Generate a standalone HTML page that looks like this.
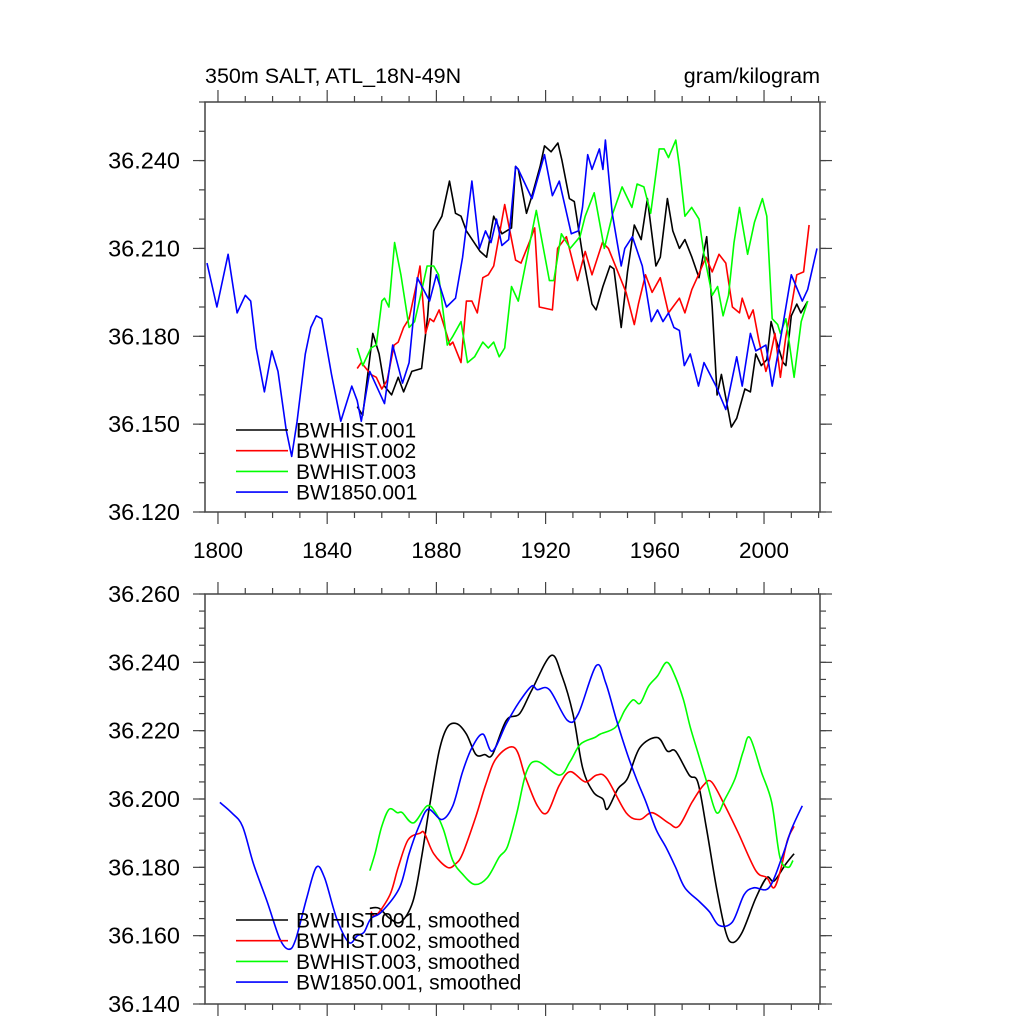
<!DOCTYPE html>
<html><head><meta charset="utf-8">
<style>
html,body{margin:0;padding:0;background:#fff;}
svg{display:block;font-family:"Liberation Sans",sans-serif;}
</style></head>
<body>
<svg id="chart" width="1024" height="1024" viewBox="0 0 1024 1024" xmlns="http://www.w3.org/2000/svg">
<text x="205" y="83" font-size="21.5">350m SALT, ATL_18N-49N</text>
<text x="820" y="83" font-size="21.5" text-anchor="end">gram/kilogram</text>
<g id="top"></g>
<g id="bot"></g>
</svg>
<script>
// ---- data (year, value pairs) ----
const xTickYears = [1800,1840,1880,1920,1960,2000];
const topYTicks = [36.12,36.15,36.18,36.21,36.24];
const topYLabels = ["36.120","36.150","36.180","36.210","36.240"];
const botYTicks = [36.14,36.16,36.18,36.20,36.22,36.24,36.26];
const botYLabels = ["36.140","36.160","36.180","36.200","36.220","36.240","36.260"];
const seriesNames = ["BWHIST.001","BWHIST.002","BWHIST.003","BW1850.001"];
const seriesColors = ["#000","#f00","#0f0","#00f"];

const raw001Years = [1851,1853,1856.7,1859,1861,1863.6,1866,1868,1871,1874.6,1876.8,1879,1882,1884.8,1887,1889,1891,1896,1898.4,1901,1904,1907.5,1909,1910,1913,1915,1918,1919.6,1922,1924.5,1926,1928.7,1930.5,1933.5,1937,1938.5,1941,1943.6,1945,1947.7,1950,1952.5,1955,1957.3,1960.4,1962,1964.6,1966.6,1969,1971,1973.6,1976.2,1979,1981,1982.8,1984.4,1988,1990,1993,1995,1997,1999,2001,2002.6,2004,2007,2008,2010,2012,2013.5,2016];
const raw001Values = [36.156,36.153,36.181,36.174,36.163,36.160,36.166,36.161,36.168,36.169,36.187,36.216,36.221,36.233,36.222,36.221,36.216,36.209,36.207,36.221,36.215,36.217,36.238,36.237,36.222,36.228,36.238,36.245,36.243,36.246,36.240,36.227,36.226,36.208,36.191,36.189,36.197,36.204,36.203,36.183,36.202,36.218,36.213,36.227,36.204,36.207,36.227,36.216,36.210,36.213,36.207,36.200,36.214,36.190,36.160,36.167,36.149,36.152,36.162,36.161,36.174,36.170,36.172,36.185,36.180,36.171,36.170,36.187,36.191,36.188,36.192];

const raw002Years = [1851,1852.5,1856,1858,1860,1862,1864.5,1866,1868,1870,1873,1874,1876,1877.6,1879,1881,1883,1885,1886,1889,1891,1893,1895,1897,1899,1901,1905,1909,1911,1914,1916,1917.7,1922.5,1924.4,1927.6,1931.7,1934.5,1937,1940.8,1943,1949.5,1952.5,1954,1956.6,1959,1962,1965,1969,1971,1973.6,1976,1978.7,1981,1983.5,1986,1988.4,1991,1992,1994.5,1996,1998,2000.7,2002,2004,2006,2008,2010,2012,2014.5,2016.5];
const raw002Values = [36.169,36.171,36.167,36.166,36.162,36.165,36.177,36.178,36.183,36.186,36.199,36.204,36.181,36.186,36.185,36.189,36.183,36.177,36.178,36.171,36.192,36.192,36.188,36.200,36.201,36.204,36.225,36.206,36.205,36.212,36.217,36.190,36.189,36.210,36.214,36.199,36.209,36.201,36.212,36.210,36.195,36.184,36.191,36.201,36.195,36.200,36.188,36.193,36.188,36.196,36.201,36.207,36.202,36.208,36.205,36.190,36.188,36.193,36.186,36.189,36.179,36.168,36.172,36.181,36.166,36.180,36.190,36.201,36.202,36.218];

const raw003Years = [1851,1853,1856,1858,1860,1861,1862.6,1864.7,1867,1870,1872,1874,1876.6,1879,1880.8,1884,1886,1889,1891.4,1894,1897,1899,1901,1903,1905,1907.5,1910,1916.6,1921.4,1923,1925.8,1929,1932.6,1934.5,1937.8,1941.5,1944.6,1948,1951.6,1953.5,1956,1958.5,1961.6,1963.4,1965,1967.7,1969,1971,1973.5,1976.2,1978,1981,1983,1985,1987,1989,1991,1994,1996.5,1999.4,2001,2003,2005,2006,2008,2011,2013.6,2016];
const raw003Values = [36.176,36.170,36.176,36.177,36.192,36.193,36.190,36.212,36.201,36.183,36.185,36.193,36.204,36.204,36.201,36.177,36.180,36.185,36.171,36.173,36.178,36.176,36.178,36.173,36.176,36.197,36.192,36.223,36.199,36.199,36.215,36.210,36.214,36.221,36.229,36.210,36.222,36.231,36.224,36.232,36.231,36.222,36.244,36.244,36.241,36.247,36.238,36.221,36.224,36.220,36.208,36.194,36.197,36.187,36.194,36.212,36.224,36.208,36.219,36.227,36.221,36.186,36.184,36.181,36.186,36.166,36.185,36.192];

const raw1850Years = [1796,1799.6,1803.7,1807,1810,1812,1814,1817,1819.7,1822,1825,1827,1829,1832,1834,1836,1838,1841.6,1845,1849,1851,1852.5,1855.6,1861,1864,1867.6,1870,1873,1877.5,1880,1883.7,1887,1889.6,1893,1895.8,1898,1900,1902,1904,1906.5,1909,1910,1915,1919.6,1922.5,1925,1929.4,1932,1933.5,1935.4,1937,1939.7,1941,1941.9,1944.4,1947.7,1949,1951.8,1955.4,1958.7,1961,1963,1965,1967,1969,1970.8,1973,1976,1978,1982.4,1986,1990,1992,1995,1997,2000.7,2003,2006.6,2010,2014,2016,2019.4];
const raw1850Values = [36.205,36.190,36.208,36.188,36.194,36.192,36.176,36.161,36.175,36.168,36.148,36.139,36.151,36.174,36.183,36.187,36.186,36.167,36.151,36.163,36.158,36.151,36.168,36.157,36.177,36.164,36.171,36.200,36.192,36.201,36.190,36.193,36.207,36.233,36.210,36.216,36.212,36.220,36.211,36.213,36.238,36.237,36.227,36.242,36.228,36.233,36.215,36.216,36.224,36.242,36.237,36.244,36.237,36.247,36.222,36.204,36.210,36.214,36.204,36.185,36.189,36.185,36.188,36.183,36.182,36.170,36.174,36.163,36.171,36.163,36.155,36.173,36.163,36.181,36.175,36.177,36.163,36.182,36.201,36.192,36.196,36.210];

const sm001Years = [1855.6,1859,1863,1867,1871.4,1874.6,1877.5,1881,1884,1887.5,1891,1894.5,1897.7,1900.5,1905.6,1910.5,1915,1922,1926,1930,1933.6,1937.5,1941,1942.6,1946.5,1950,1954.5,1960.9,1964.6,1967.6,1972.6,1975.7,1978.8,1982.6,1986,1988.5,1992,1997,2001,2003.7,2008,2011];
const sm001Values = [36.168,36.168,36.165,36.164,36.170,36.183,36.198,36.214,36.221,36.222,36.219,36.213,36.213,36.213,36.223,36.225,36.232,36.242,36.236,36.225,36.209,36.202,36.200,36.197,36.203,36.206,36.215,36.218,36.214,36.214,36.207,36.205,36.192,36.174,36.161,36.158,36.161,36.171,36.177,36.176,36.181,36.184];

const sm002Years = [1856,1858,1863,1866,1869.6,1874,1875.6,1879,1884,1887,1889.6,1894.5,1898,1902,1908.6,1912.8,1917,1920.6,1925,1929,1934.5,1938.7,1942.4,1949.5,1954.5,1959,1965,1968.7,1973.6,1977.8,1980.8,1985.7,1990.6,1997,2001,2003.6,2006,2008.6,2011];
const sm002Values = [36.167,36.166,36.172,36.180,36.188,36.190,36.190,36.184,36.180,36.181,36.184,36.195,36.204,36.212,36.215,36.206,36.198,36.196,36.204,36.208,36.205,36.207,36.206,36.196,36.194,36.196,36.193,36.192,36.199,36.204,36.205,36.198,36.190,36.179,36.177,36.174,36.179,36.188,36.192];

const sm003Years = [1855.6,1857.5,1860,1862.7,1865.7,1867.5,1871.6,1876.6,1879.7,1882.6,1886,1889.6,1894,1898.7,1903,1906,1909.5,1913,1917,1925,1929,1932.7,1938,1940,1945.6,1949,1952,1954.6,1957.7,1961,1964.4,1967.4,1970.5,1973,1976,1979,1982.6,1985.7,1989.4,1992.4,1994.8,1999,2002.8,2005.8,2008.8,2010.6];
const sm003Values = [36.179,36.184,36.192,36.197,36.196,36.196,36.193,36.198,36.196,36.191,36.182,36.178,36.175,36.177,36.183,36.186,36.196,36.208,36.211,36.207,36.211,36.216,36.218,36.219,36.221,36.226,36.229,36.228,36.233,36.236,36.240,36.236,36.229,36.221,36.213,36.205,36.196,36.200,36.206,36.214,36.218,36.208,36.199,36.183,36.180,36.182];

const sm1850Years = [1800.7,1805,1809,1813,1818,1822.7,1826,1828.5,1832.5,1836,1839,1843.5,1848,1851,1853.5,1856,1860,1866.5,1870,1873.6,1877,1882,1886,1889.6,1893,1897,1900.5,1905.6,1910,1914.8,1917,1921.4,1928,1932,1938.5,1942,1946,1950,1953.2,1956.8,1960.5,1964,1967.6,1971,1976.3,1980,1983.5,1988.4,1992.7,1996.3,2001.8,2006.6,2010,2014];
const sm1850Values = [36.199,36.196,36.192,36.181,36.170,36.159,36.156,36.159,36.171,36.180,36.177,36.165,36.158,36.160,36.161,36.165,36.167,36.174,36.184,36.192,36.197,36.194,36.198,36.208,36.215,36.219,36.214,36.222,36.228,36.233,36.232,36.232,36.223,36.225,36.239,36.234,36.223,36.213,36.206,36.199,36.191,36.186,36.180,36.174,36.170,36.167,36.163,36.164,36.172,36.174,36.174,36.183,36.191,36.198];

const NS = "http://www.w3.org/2000/svg";
const X0 = 205, X1 = 820, YEAR0 = 1795.25, YEAR1 = 2020.5;
function xScale(yr){ return X0 + (yr - YEAR0) / (YEAR1 - YEAR0) * (X1 - X0); }
function mk(tag, attrs, parent){
  const e = document.createElementNS(NS, tag);
  for (const k in attrs) e.setAttribute(k, attrs[k]);
  parent.appendChild(e); return e;
}
function linePath(pts){
  return pts.map((p, j) => (j ? "L" : "M") + p[0].toFixed(1) + " " + p[1].toFixed(1)).join(" ");
}
function smoothPath(pts){
  let d = "M" + pts[0][0].toFixed(1) + " " + pts[0][1].toFixed(1);
  for (let i = 0; i < pts.length - 1; i++){
    const p0 = pts[Math.max(0, i-1)], p1 = pts[i], p2 = pts[i+1], p3 = pts[Math.min(pts.length-1, i+2)];
    const c1x = p1[0] + (p2[0]-p0[0])/6, c1y = p1[1] + (p2[1]-p0[1])/6;
    const c2x = p2[0] - (p3[0]-p1[0])/6, c2y = p2[1] - (p3[1]-p1[1])/6;
    d += " C" + c1x.toFixed(1) + " " + c1y.toFixed(1) + " " + c2x.toFixed(1) + " " + c2y.toFixed(1) + " " + p2[0].toFixed(1) + " " + p2[1].toFixed(1);
  }
  return d;
}

function panel(g, top, bottom, vmin, vmax, yTicks, yLabels, minorStep, xLabels, series, legendLabels, legendY, smooth){
  const yScale = v => bottom - (v - vmin) / (vmax - vmin) * (bottom - top);
  const ax = "#444";
  const fr = mk("rect", {x:X0, y:top, width:X1-X0, height:bottom-top, fill:"none", stroke:ax, "stroke-width":1.5}, g);
  
  
  for (let yr = 1800; yr <= 2020; yr += 10){
    const x = xScale(yr), major = (yr - 1800) % 40 === 0, L = major ? 12 : 6;
    const t1 = mk("line", {x1:x, x2:x, y1:bottom, y2:bottom+L, stroke:ax, "stroke-width":1.2}, g);
    
    
    const t2 = mk("line", {x1:x, x2:x, y1:top, y2:top-L, stroke:ax, "stroke-width":1.2}, g);
    
    
  }
  if (xLabels){
    xTickYears.forEach(yr => {
      const t = mk("text", {x:xScale(yr), y:bottom+46, "font-size":22.5, "text-anchor":"middle"}, g);
      t.textContent = String(yr);
      
      
    });
  }
  for (let v = vmin; v <= vmax + 1e-9; v += minorStep){
    const y = yScale(v);
    const a = mk("line", {x1:X0, x2:X0-6, y1:y, y2:y, stroke:ax, "stroke-width":1.2}, g);
    
    
    const b = mk("line", {x1:X1, x2:X1+6, y1:y, y2:y, stroke:ax, "stroke-width":1.2}, g);
    
    
  }
  yTicks.forEach((v, i) => {
    const y = yScale(v);
    const a = mk("line", {x1:X0, x2:X0-12, y1:y, y2:y, stroke:ax, "stroke-width":1.2}, g);
    
    
    const b = mk("line", {x1:X1, x2:X1+12, y1:y, y2:y, stroke:ax, "stroke-width":1.2}, g);
    
    
    const t = mk("text", {x:180, y:y+8, "font-size":23.5, "text-anchor":"end"}, g);
    t.textContent = yLabels[i];
    
    
  });
  series.forEach((s, i) => {
    const pts = s.years.map((yr, j) => [xScale(yr), yScale(s.values[j])]);
    const d = smooth ? smoothPath(pts) : linePath(pts);
    const p = mk("path", {d:d, fill:"none", stroke:seriesColors[i], "stroke-width":1.6, "stroke-linejoin":"round"}, g);
    
    
  });
  legendLabels.forEach((lab, i) => {
    const y = legendY + i * 20.7;
    const l = mk("line", {x1:236, x2:288, y1:y, y2:y, stroke:seriesColors[i], "stroke-width":1.6}, g);
    
    
    const t = mk("text", {x:296, y:y+7.5, "font-size":21}, g);
    t.textContent = lab;
    
    
  });
}

panel(document.getElementById("top"), 102, 512, 36.12, 36.26, topYTicks, topYLabels, 0.01, true,
  [{years:raw001Years, values:raw001Values},{years:raw002Years, values:raw002Values},
   {years:raw003Years, values:raw003Values},{years:raw1850Years, values:raw1850Values}],
  seriesNames, 430, false);
panel(document.getElementById("bot"), 594, 1004, 36.14, 36.26, botYTicks, botYLabels, 0.005, false,
  [{years:sm001Years, values:sm001Values},{years:sm002Years, values:sm002Values},
   {years:sm003Years, values:sm003Values},{years:sm1850Years, values:sm1850Values}],
  seriesNames.map(n => n + ", smoothed"), 920, true);
</script>
</body></html>
